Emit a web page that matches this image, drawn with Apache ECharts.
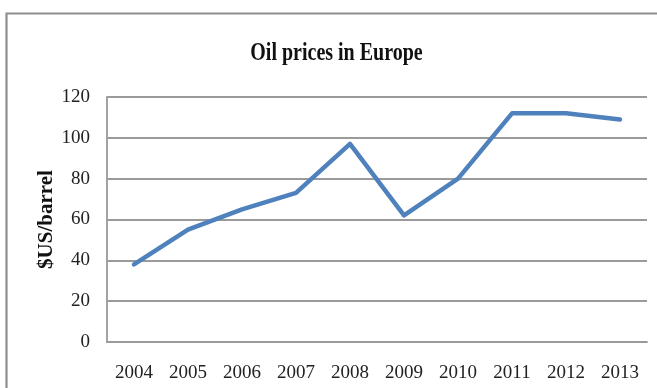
<!DOCTYPE html>
<html>
<head>
<meta charset="utf-8">
<title>Oil prices in Europe</title>
<script src="https://cdn.jsdelivr.net/npm/echarts@6/dist/echarts.min.js"></script>
<style>
  html, body { margin: 0; padding: 0; background: #ffffff; }
  #chart { width: 657px; height: 388px; }
</style>
</head>
<body>
<div id="chart"></div>
<script>
// Yearly European oil price, US dollars per barrel
const years = ['2004', '2005', '2006', '2007', '2008', '2009', '2010', '2011', '2012', '2013'];
const prices = [38, 55, 65, 73, 97, 62, 80, 112, 112, 109];
const yTicks = [0, 20, 40, 60, 80, 100, 120];

const chartTitle = 'Oil prices in Europe';
const yAxisTitle = '$US/barrel';

const chart = echarts.init(document.getElementById('chart'), null, { renderer: 'canvas' });

const gridColor = '#9a9a9a';
const labelFont = 'Liberation Serif';

chart.setOption({
  animation: false,
  backgroundColor: '#ffffff',
  graphic: [
    {
      // frame around the chart (runs off the right and bottom edges)
      type: 'rect',
      shape: { x: 6.5, y: 13.5, width: 720, height: 420 },
      style: { fill: 'none', stroke: '#8e8e8e', lineWidth: 2.2 },
      silent: true
    },
    {
      // narrow bold serif heading
      type: 'text',
      x: 336.5,
      y: 53.5,
      scaleX: 0.8,
      style: {
        text: chartTitle,
        fontFamily: labelFont,
        fontWeight: 'bold',
        fontSize: 25,
        fill: '#111111',
        textAlign: 'center',
        textVerticalAlign: 'middle'
      },
      silent: true
    }
  ],
  grid: {
    left: 107,
    right: 10,
    top: 97,
    bottom: 46,
    containLabel: false
  },
  xAxis: {
    type: 'category',
    data: years,
    boundaryGap: true,
    axisLine: { show: true, lineStyle: { color: gridColor, width: 1.8 } },
    axisTick: { show: false },
    axisLabel: {
      margin: 22,
      fontFamily: labelFont,
      fontSize: 19,
      color: '#222222',
      interval: 0
    },
    splitLine: { show: false }
  },
  yAxis: {
    type: 'value',
    min: yTicks[0],
    max: yTicks[yTicks.length - 1],
    interval: yTicks[1] - yTicks[0],
    name: yAxisTitle,
    nameLocation: 'middle',
    nameRotate: 90,
    nameGap: 50,
    nameMoveOverlap: false,
    nameTextStyle: {
      fontFamily: labelFont,
      fontWeight: 'bold',
      fontSize: 21,
      color: '#111111'
    },
    axisLine: { show: true, lineStyle: { color: gridColor, width: 1.8 } },
    axisTick: { show: false },
    axisLabel: {
      margin: 17,
      padding: [5, 0, 0, 0],
      fontFamily: labelFont,
      fontSize: 19,
      color: '#222222'
    },
    splitLine: { show: true, lineStyle: { color: gridColor, width: 1.8 } }
  },
  series: [
    {
      type: 'line',
      data: prices,
      symbol: 'none',
      smooth: false,
      lineStyle: { color: '#4F81BD', width: 4.5, cap: 'round', join: 'round' },
      itemStyle: { color: '#4F81BD' }
    }
  ]
});
</script>
</body>
</html>
